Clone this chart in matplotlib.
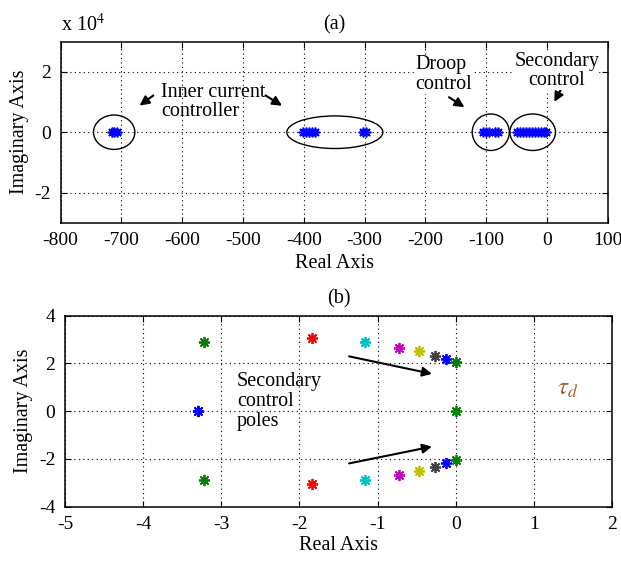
import matplotlib.pyplot as plt
from matplotlib.patches import Ellipse

plt.rcParams['font.family'] = ['Liberation Serif', 'DejaVu Serif']
plt.rcParams['mathtext.fontset'] = 'stix'
plt.rcParams['axes.unicode_minus'] = False

# (a) all poles, imaginary part ~0 at this scale
poles_a_re = [-716, -712, -708,
              -402, -397, -392, -387, -382, -302, -298,
              -105, -100, -96, -85, -80,
              -50, -45, -40, -35, -30, -25, -20, -15, -10, -5, -2]
poles_a_im = [0] * len(poles_a_re)

# (b) secondary control poles, one colour per tau_d value
poles_b_re = [-3.22, -3.30, -1.84, -1.16, -0.73, -0.47, -0.26, -0.12, 0.0]
poles_b_im = [2.9, 0.0, 3.05, 2.9, 2.66, 2.52, 2.33, 2.19, 2.05]
poles_b_col = ['#008000', '#0000ff', '#ff0000', '#00bfbf', '#bf00bf',
               '#bfbf00', '#404040', '#0000ff', '#008000']
extra_re = [0.0]
extra_im = [0.0]

AST = (8, 2, 0)  # matlab-ish asterisk
FS = 14.5


def style(ax):
    ax.grid(True, color='k', linestyle=(0, (1, 3)), linewidth=0.8)
    ax.tick_params(direction='in', top=True, right=True, length=4,
                   labelsize=14, pad=7)
    for s in ax.spines.values():
        s.set_linewidth(1.1)


fig = plt.figure(figsize=(6.21, 5.63), dpi=100)

# ---- (a)
ax1 = fig.add_axes([0.0977, 0.6044, 0.881, 0.3215])
ax1.plot(poles_a_re, poles_a_im, linestyle='none', marker=AST, color='#0000ff',
         ms=7, mew=1.2)
ax1.set_xlim(-800, 100)
ax1.set_ylim(-3e4, 3e4)
ax1.set_xticks(range(-800, 101, 100))
ax1.set_yticks([-2e4, 0, 2e4])
ax1.set_yticklabels(['-2', '0', '2'])
style(ax1)
ax1.set_xlabel('Real Axis', fontsize=FS, labelpad=3)
ax1.set_ylabel('Imaginary Axis', fontsize=FS, labelpad=4)
ax1.set_title('(a)', fontsize=FS, pad=9)
ax1.text(0.0, 1.03, r'x 10$^{4}$', transform=ax1.transAxes, fontsize=FS,
         ha='left', va='bottom')

for cx, w, h in [(-712, 68, 1.14e4), (-349, 158, 1.08e4),
                 (-92.5, 61, 1.21e4), (-23.5, 75, 1.21e4)]:
    ax1.add_patch(Ellipse((cx, 0), w, h, fill=False, color='k', lw=1.0))

akw = dict(arrowstyle='-|>', color='k', lw=1.5, mutation_scale=14)
ax1.annotate('', xy=(-674, 0.83e4), xytext=(-644, 1.27e4), arrowprops=akw)
ax1.annotate('', xy=(-432, 0.83e4), xytext=(-467, 1.27e4), arrowprops=akw)
ax1.annotate('', xy=(-132, 0.78e4), xytext=(-165, 1.21e4), arrowprops=akw)
ax1.annotate('', xy=(10, 0.92e4), xytext=(27, 1.57e4), arrowprops=akw)
ax1.text(-635, 1.0e4, 'Inner current\ncontroller', fontsize=FS, ha='left',
         va='center', linespacing=1.05)
ax1.text(-217, 1.92e4, 'Droop\ncontrol', fontsize=FS, ha='left', va='center',
         linespacing=1.05, bbox=dict(fc='white', ec='none', pad=0))
ax1.text(16, 2.03e4, 'Secondary\ncontrol', fontsize=FS, ha='center',
         va='center', linespacing=1.05, bbox=dict(fc='white', ec='none', pad=0))

# ---- (b)
ax2 = fig.add_axes([0.1047, 0.1000, 0.881, 0.3393])
for re, im, c in zip(poles_b_re, poles_b_im, poles_b_col):
    ax2.plot([re, re], [im, -im], linestyle='none', marker=AST, color=c,
             ms=8, mew=1.3)
ax2.plot(extra_re, extra_im, linestyle='none', marker=AST, color='#008000',
         ms=8, mew=1.3)
ax2.set_xlim(-5, 2)
ax2.set_ylim(-4, 4)
ax2.set_xticks(range(-5, 3))
ax2.set_yticks(range(-4, 5, 2))
style(ax2)
ax2.set_xlabel('Real Axis', fontsize=FS, labelpad=2)
ax2.set_ylabel('Imaginary Axis', fontsize=FS, labelpad=4)
ax2.set_title('(b)', fontsize=FS, pad=9)

ax2.annotate('', xy=(-0.27, 1.54), xytext=(-1.40, 2.32), arrowprops=akw)
ax2.annotate('', xy=(-0.27, -1.46), xytext=(-1.40, -2.21), arrowprops=akw)
ax2.text(-2.8, 0.4, 'Secondary\ncontrol\npoles', fontsize=FS, ha='left',
         va='center', linespacing=1.05)
ax2.text(1.3, 0.95, r'$\tau_d$', fontsize=18, color='#a0642a', ha='left',
         va='center')

fig.savefig('out.png', dpi=100)
